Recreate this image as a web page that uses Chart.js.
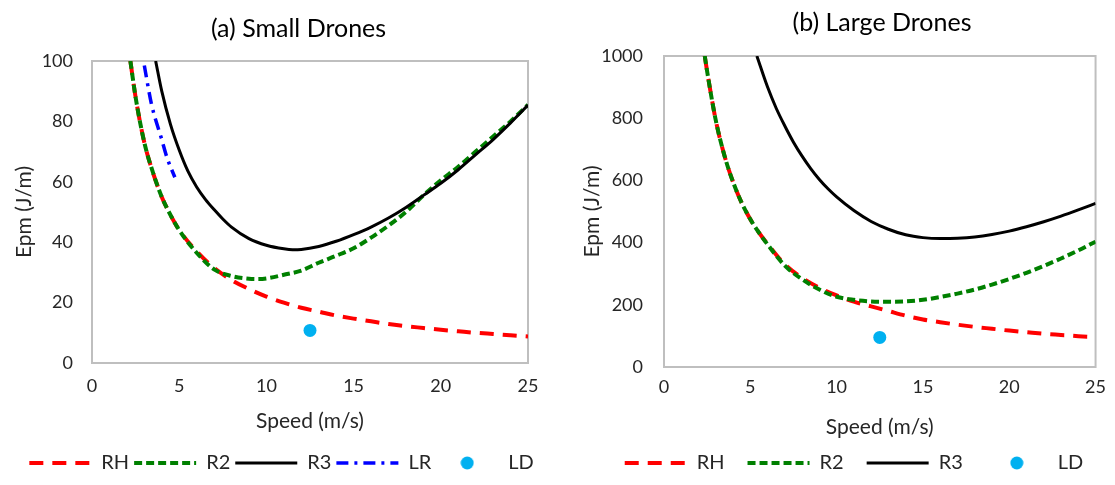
<!DOCTYPE html>
<html><head><meta charset="utf-8">
<script src="https://cdn.jsdelivr.net/npm/chart.js@4.4.0/dist/chart.umd.min.js"></script>
<style>
html,body{margin:0;padding:0;background:#fff;}
#wrap{position:relative;width:1115px;height:485px;overflow:hidden;}
#c1{position:absolute;left:0;top:0;}
#c2{position:absolute;left:555px;top:0;}
</style></head><body>
<div id="wrap"><canvas id="c1" width="555" height="485"></canvas><canvas id="c2" width="560" height="485"></canvas></div>
<script>
// ---------- (a) Small Drones ----------
const sRH_x = [2.2, 2.5, 3, 3.5, 4, 4.5, 5, 6, 7, 8, 9, 10, 11, 12, 13, 14, 15, 16, 17, 18, 19, 20, 21, 22, 23, 24, 25];
const sRH_y = [100, 88, 73, 63, 55, 49, 44, 37, 31.5, 27.5, 24.5, 22, 20, 18.3, 17, 15.7, 14.7, 13.8, 12.9, 12.2, 11.6, 11, 10.5, 10, 9.6, 9.2, 8.8];
const sR2_x = [2.2, 2.5, 3, 3.5, 4, 4.5, 5, 6, 7, 8, 9, 9.5, 10, 11, 12, 13, 14, 15, 16, 17, 18, 19, 20, 21, 22, 23, 24, 25];
const sR2_y = [100, 88, 73, 63, 55, 49, 44, 36.5, 31, 28.8, 27.9, 27.8, 28.0, 29.2, 30.6, 33.2, 35.5, 38, 41.5, 45.5, 50, 55.5, 60.5, 65, 70, 75, 80, 85.5];
const sR3_x = [3.65, 4, 4.5, 5, 5.5, 6, 6.5, 7, 7.5, 8, 9, 10, 11, 11.5, 12, 13, 14, 15, 16, 17, 18, 19, 20, 21, 22, 23, 24, 25];
const sR3_y = [100, 90, 79, 70.5, 63.5, 58.3, 54.2, 50.8, 47.7, 45.0, 41.2, 39.0, 37.8, 37.5, 37.6, 38.6, 40.3, 42.5, 45, 48, 51.5, 55.5, 59.5, 64, 69, 74, 79.5, 85.4];
const sLR_x = [3.0, 3.4, 4.0, 4.3, 4.75];
const sLR_y = [98.5, 86, 74, 68, 61.5];
const sLD_x = [12.5];
const sLD_y = [10.8];
const sYTicks = [0, 20, 40, 60, 80, 100];

// ---------- (b) Large Drones ----------
const lRH_x = [2.36, 2.5, 3, 3.5, 4, 4.5, 5, 5.5, 6, 7, 8, 9, 10, 11, 12, 13, 14, 15, 16, 17, 18, 19, 20, 21, 22, 23, 24, 25];
const lRH_y = [1000, 950, 793, 680, 595, 528, 475, 432, 396, 330, 287, 255, 230, 210, 195, 180, 165, 153, 144, 136, 129, 123, 117, 112, 107, 103, 99, 95];
const lR2_x = [2.36, 2.5, 3, 3.5, 4, 4.5, 5, 5.5, 6, 7, 8, 9, 10, 11, 12, 13, 14, 15, 16, 17, 18, 19, 20, 21, 22, 23, 24, 25];
const lR2_y = [1000, 950, 793, 680, 595, 528, 475, 432, 394, 326, 282, 249, 226, 216, 211, 210, 211, 216, 225, 236, 249, 265, 283, 303, 325, 349, 375, 403];
const lR3_x = [5.38, 6, 6.5, 7, 7.5, 8, 8.5, 9, 9.5, 10, 11, 12, 13, 14, 15, 16, 17, 18, 19, 20, 21, 22, 23, 24, 25];
const lR3_y = [1000, 900, 832, 775, 723, 678, 638, 603, 573, 547, 503, 468, 443, 425, 416, 413, 414, 418, 426, 437, 451, 467, 485, 505, 526];
const lLD_x = [12.5];
const lLD_y = [95];
const lYTicks = [0, 200, 400, 600, 800, 1000];

const xTicks = [0, 5, 10, 15, 20, 25];

const pts = (xs, ys) => xs.map((x, i) => ({x: x, y: ys[i]}));

const FONT = "Lato, 'Open Sans', sans-serif";
const TXT = '#262626';

// LD marker image for legend
const dot = document.createElement('canvas');
dot.width = 14; dot.height = 14;
(function(){ const c = dot.getContext('2d'); c.fillStyle = '#00B0F0'; c.beginPath(); c.arc(7, 7, 6.5, 0, Math.PI*2); c.fill(); })();

const framePlugin = {
  id: 'frame',
  beforeDatasetsDraw(chart) {
    const a = chart.chartArea, ctx = chart.ctx;
    ctx.save();
    ctx.strokeStyle = '#BFBFBF';
    ctx.lineWidth = 2;
    ctx.strokeRect(a.left, a.top, a.right - a.left, a.bottom - a.top);
    ctx.restore();
  }
};
const shiftPlugin = {
  id: 'shift',
  afterLayout(chart, args, opts) {
    if (chart.titleBlock && opts.title) { chart.titleBlock.left += opts.title; chart.titleBlock.right += opts.title; }
    if (chart.legend && opts.legend) { chart.legend.left += opts.legend; chart.legend.right += opts.legend; }
  }
};

function lineDs(label, data, color, dash, width, order) {
  return { label, data, showLine: true, borderColor: color, backgroundColor: color, borderWidth: width,
    borderDash: dash, borderCapStyle: 'butt', pointRadius: 0, pointHoverRadius: 0,
    cubicInterpolationMode: 'monotone', order };
}
function dotDs(label, data) {
  return { label, data, showLine: false, pointRadius: 6.5, pointHoverRadius: 6.5, pointBorderWidth: 0,
    backgroundColor: '#00B0F0', borderColor: '#00B0F0', borderWidth: 0, order: 0 };
}

function makeChart(id, cfg) {
  return new Chart(document.getElementById(id), {
    type: 'scatter',
    data: { datasets: cfg.datasets },
    plugins: [framePlugin, shiftPlugin],
    options: {
      responsive: false, animation: false, events: [],
      layout: { padding: { left: 0, right: 0, top: 0, bottom: 2 } },
      plugins: {
        tooltip: { enabled: false },
        shift: { title: cfg.titleShift, legend: cfg.legendShift },
        title: { display: true, text: cfg.title, color: '#000', font: { family: FONT, size: 25, weight: 'normal' },
          padding: cfg.titlePad },
        legend: {
          position: 'bottom',
          labels: {
            usePointStyle: true, pointStyleWidth: 62, padding: cfg.legendPad,
            color: TXT, font: { family: FONT, size: 20 },
            generateLabels(chart) {
              return chart.data.datasets.map((ds, i) => ({
                text: ds.label,
                fillStyle: ds.showLine ? 'rgba(0,0,0,0)' : '#00B0F0',
                strokeStyle: ds.borderColor,
                lineWidth: ds.showLine ? ds.borderWidth : 0,
                lineDash: ds.borderDash || [],
                lineCap: 'butt',
                pointStyle: ds.showLine ? 'line' : dot,
                hidden: false, datasetIndex: i, fontColor: TXT
              }));
            }
          }
        }
      },
      scales: {
        x: {
          type: 'linear', min: 0, max: 25,
          afterBuildTicks: s => { s.ticks = xTicks.map(v => ({value: v})); },
          afterFit: s => { s.height = cfg.xHeight; },
          grid: { display: false, drawTicks: false }, border: { display: false },
          ticks: { color: TXT, font: { family: FONT, size: 18 }, padding: cfg.xTickPad, callback: v => String(v) },
          title: { display: true, text: 'Speed (m/s)', color: TXT, font: { family: FONT, size: 21 },
            padding: { top: 0, bottom: cfg.xTitleBottom } }
        },
        y: {
          type: 'linear', min: 0, max: cfg.yMax,
          afterBuildTicks: s => { s.ticks = cfg.yTicks.map(v => ({value: v})); },
          afterFit: s => { s.width = cfg.yWidth; },
          grid: { display: false, drawTicks: false }, border: { display: false },
          ticks: { color: TXT, font: { family: FONT, size: 18 }, padding: cfg.yTickPad, callback: v => String(v) },
          title: { display: true, text: 'Epm (J/m)', color: TXT, font: { family: FONT, size: 21 },
            padding: { top: cfg.yTitleTop, bottom: 0 } }
        },
        yR: {
          type: 'linear', position: 'right', display: true,
          afterFit: s => { s.width = cfg.padRight; },
          grid: { display: false, drawTicks: false }, border: { display: false },
          ticks: { display: false }, title: { display: false }
        }
      }
    }
  });
}

makeChart('c1', {
  title: '(a) Small Drones', titlePad: { top: 14, bottom: 17 }, titleShift: 21, legendShift: 4, legendPad: 5,
  padRight: 27, xHeight: 85, xTickPad: 12, xTitleBottom: 14, yWidth: 92, yTickPad: 19, yTitleTop: 12,
  yMax: 100, yTicks: sYTicks,
  datasets: [
    lineDs('RH', pts(sRH_x, sRH_y), '#FF0000', [14, 9], 4, 5),
    lineDs('R2', pts(sR2_x, sR2_y), '#008000', [8, 4], 4, 4),
    lineDs('R3', pts(sR3_x, sR3_y), '#000000', [], 3, 3),
    lineDs('LR', pts(sLR_x, sLR_y), '#0000FF', [12, 6, 3, 6], 3.5, 2),
    dotDs('LD', pts(sLD_x, sLD_y))
  ]
});

makeChart('c2', {
  title: '(b) Large Drones', titlePad: { top: 8, bottom: 18 }, titleShift: 47, legendShift: 19, legendPad: 23,
  padRight: 16, xHeight: 63, xTickPad: 9, xTitleBottom: -10, yWidth: 109, yTickPad: 21, yTitleTop: 25,
  yMax: 1000, yTicks: lYTicks,
  datasets: [
    lineDs('RH', pts(lRH_x, lRH_y), '#FF0000', [14, 9], 4, 5),
    lineDs('R2', pts(lR2_x, lR2_y), '#008000', [8, 4], 4, 4),
    lineDs('R3', pts(lR3_x, lR3_y), '#000000', [], 3, 3),
    dotDs('LD', pts(lLD_x, lLD_y))
  ]
});
</script>
</body></html>
